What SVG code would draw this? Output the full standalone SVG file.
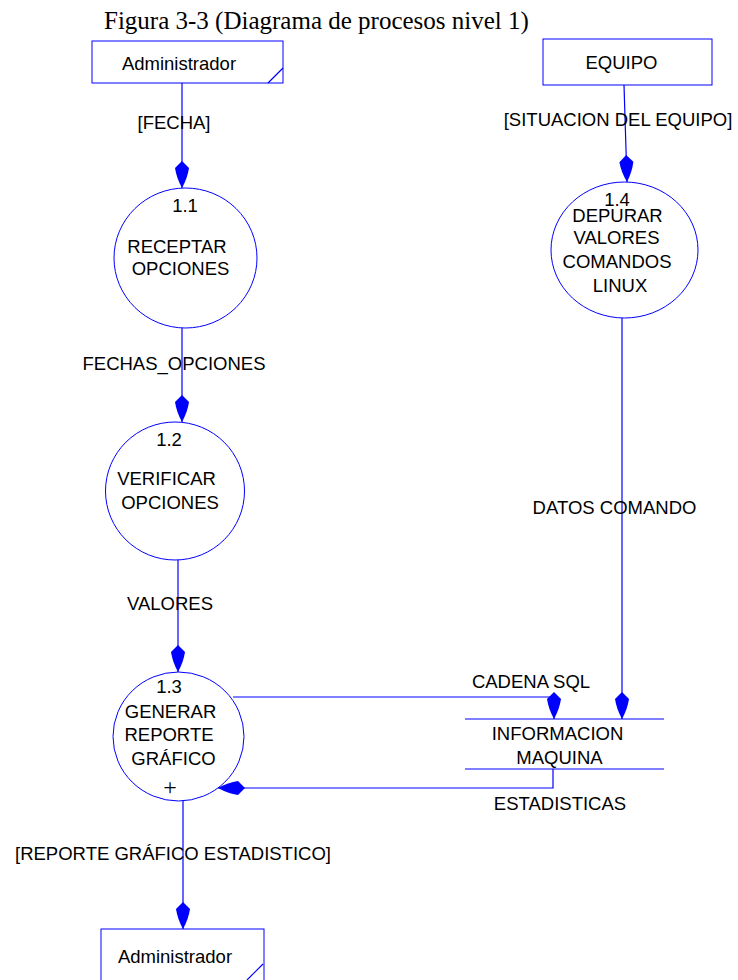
<svg xmlns="http://www.w3.org/2000/svg" width="738" height="980" viewBox="0 0 738 980">
  <style>
    .lbl { font-family: "Liberation Sans", Arial, sans-serif; font-size: 18.5px; fill: #000; text-anchor: middle; }
    .title { font-family: "Liberation Serif", "Times New Roman", serif; font-size: 25px; fill: #000; }
    .shape { fill: #fff; stroke: #0000ff; stroke-width: 1; }
    .flow { fill: none; stroke: #0000ff; stroke-width: 1.2; }
    .arrow { marker-end: url(#head); }
  </style>
  <defs>
    <marker id="head" markerUnits="userSpaceOnUse" viewBox="-28 -10 30 20" refX="0" refY="0" markerWidth="30" markerHeight="20" orient="auto">
      <path d="M0,0 Q-10,-5.5 -20,-7 L-27,0 L-20,7 Q-10,5.5 0,0 Z" fill="#0000ff"/>
    </marker>
  </defs>
  <rect width="738" height="980" fill="#fff"/>

  <text class="title" x="104" y="28.5">Figura 3-3 (Diagrama de procesos nivel 1)</text>

  <!-- data flows -->
  <g id="connectors">
    <line class="flow arrow" x1="182" y1="83" x2="182" y2="188"/>
    <text class="lbl" x="174" y="128.5">[FECHA]</text>

    <line class="flow arrow" x1="624" y1="85" x2="627" y2="182"/>
    <text class="lbl" x="618" y="125.5">[SITUACION DEL EQUIPO]</text>

    <line class="flow arrow" x1="182" y1="328" x2="182" y2="422"/>
    <text class="lbl" x="174" y="369.5">FECHAS_OPCIONES</text>

    <line class="flow arrow" x1="178" y1="560" x2="178" y2="672"/>
    <text class="lbl" x="170" y="609.5">VALORES</text>

    <line class="flow arrow" x1="622" y1="318" x2="622" y2="719"/>
    <text class="lbl" x="614.5" y="513.5">DATOS COMANDO</text>

    <polyline class="flow arrow" points="233,697 554,697 554,719"/>
    <text class="lbl" x="531" y="687.5">CADENA SQL</text>

    <polyline class="flow arrow" points="553,769 553,788 218,788"/>
    <text class="lbl" x="560" y="809.5">ESTADISTICAS</text>

    <line class="flow arrow" x1="183" y1="801" x2="183" y2="929"/>
    <text class="lbl" x="173" y="859.5">[REPORTE GRÁFICO ESTADISTICO]</text>
  </g>

  <!-- external entities -->
  <g id="admin-in">
    <rect class="shape" x="92" y="41" width="191" height="42"/>
    <line class="flow" x1="268" y1="83" x2="283" y2="68"/>
    <text class="lbl" x="179" y="69.5">Administrador</text>
  </g>

  <g id="equipo">
    <rect class="shape" x="543" y="39" width="169" height="46"/>
    <text class="lbl" x="621.5" y="68.5">EQUIPO</text>
  </g>

  <g id="admin-out">
    <rect class="shape" x="101" y="929" width="163" height="70"/>
    <line class="flow" x1="247" y1="980" x2="263" y2="964"/>
    <text class="lbl" x="175" y="962.5">Administrador</text>
  </g>

  <!-- processes -->
  <g id="p1-1">
    <ellipse class="shape" cx="185.5" cy="258" rx="71.5" ry="70"/>
    <text class="lbl" x="185" y="211.5">1.1</text>
    <text class="lbl" x="177" y="252.5">RECEPTAR</text>
    <text class="lbl" x="180.5" y="274.5">OPCIONES</text>
  </g>

  <g id="p1-2">
    <ellipse class="shape" cx="175" cy="491" rx="69.5" ry="69"/>
    <text class="lbl" x="169" y="445.5">1.2</text>
    <text class="lbl" x="166.5" y="484.5">VERIFICAR</text>
    <text class="lbl" x="170" y="508.5">OPCIONES</text>
  </g>

  <g id="p1-3">
    <ellipse class="shape" cx="178.5" cy="736.5" rx="65.5" ry="64.5"/>
    <text class="lbl" x="169" y="692.5">1.3</text>
    <text class="lbl" x="170.5" y="717.5">GENERAR</text>
    <text class="lbl" x="169" y="740.5">REPORTE</text>
    <text class="lbl" x="173.5" y="764.5">GRÁFICO</text>
    <text x="170" y="795" font-family="Liberation Serif, serif" font-size="24" text-anchor="middle" fill="#000">+</text>
  </g>

  <g id="p1-4">
    <ellipse class="shape" cx="624.5" cy="250" rx="73.5" ry="68"/>
    <text class="lbl" x="617" y="205.5">1.4</text>
    <text class="lbl" x="617.5" y="221.5">DEPURAR</text>
    <text class="lbl" x="616.5" y="243.5">VALORES</text>
    <text class="lbl" x="617" y="267.5">COMANDOS</text>
    <text class="lbl" x="620" y="291.5">LINUX</text>
  </g>

  <!-- data store -->
  <g id="store">
    <line class="flow" x1="465" y1="719" x2="664" y2="719"/>
    <line class="flow" x1="465" y1="769" x2="664" y2="769"/>
    <text class="lbl" x="557.5" y="739.5">INFORMACION</text>
    <text class="lbl" x="559.5" y="763.5">MAQUINA</text>
  </g>
</svg>
